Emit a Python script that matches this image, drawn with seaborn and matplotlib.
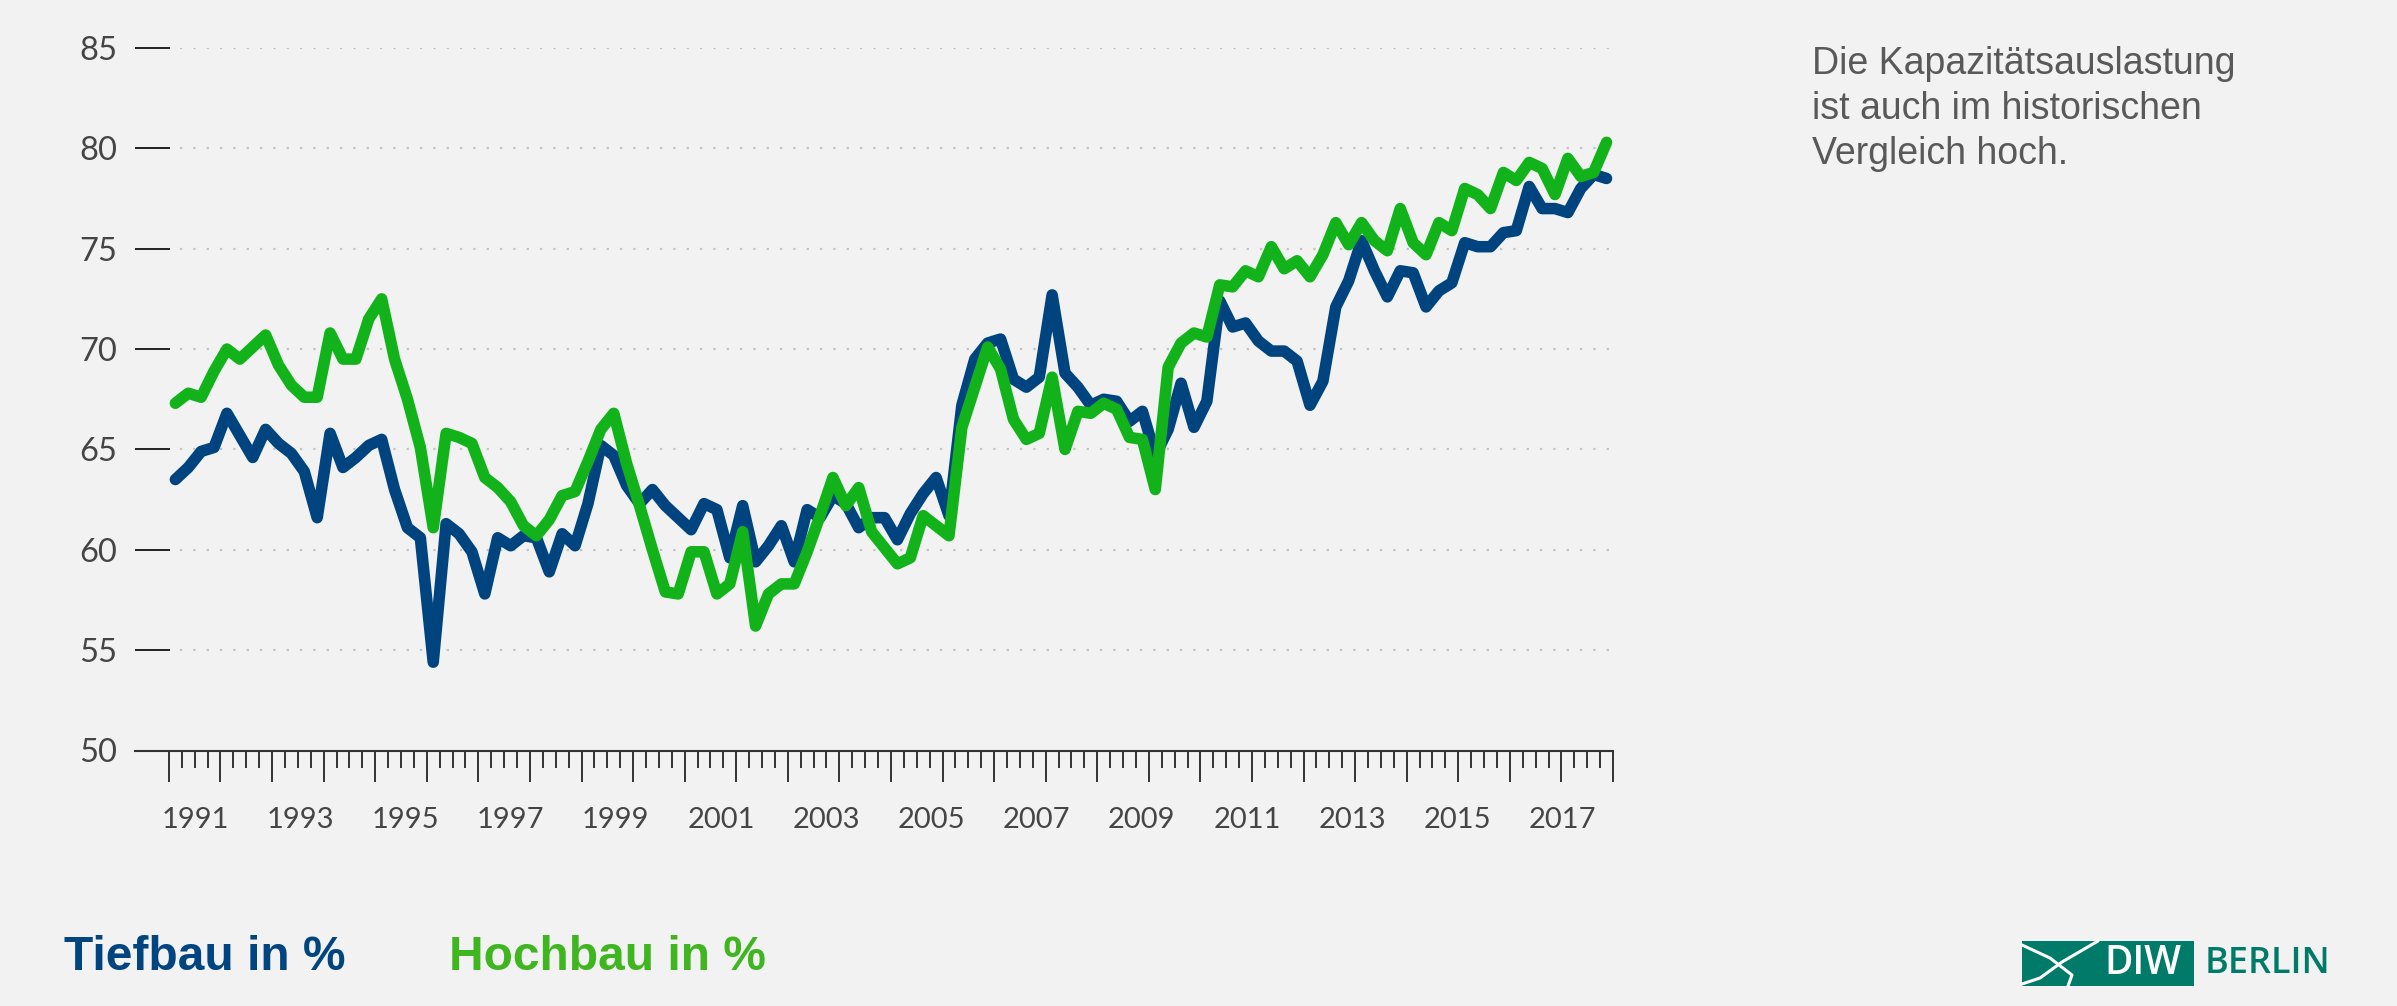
import numpy as np
import pandas as pd
import matplotlib
matplotlib.use("Agg")
import matplotlib.pyplot as plt
import seaborn as sns
from matplotlib.patches import Rectangle
from matplotlib.lines import Line2D

# ---------------- data ----------------
quarters = list(pd.period_range("1991Q1", periods=112, freq="Q").astype(str))

tiefbau = [
    63.5, 64.1, 64.9, 65.1, 66.8, 65.7, 64.6, 66.0, 65.3, 64.8, 63.9, 61.6,
    65.8, 64.1, 64.6, 65.2, 65.5, 63.0, 61.1, 60.6, 54.4, 61.3, 60.8, 59.9,
    57.8, 60.6, 60.2, 60.7, 60.6, 58.9, 60.8, 60.2, 62.3, 65.2, 64.7, 63.2,
    62.3, 63.0, 62.2, 61.6, 61.0, 62.3, 62.0, 59.6, 62.2, 59.4, 60.2, 61.2,
    59.4, 62.0, 61.6, 62.7, 62.3, 61.1, 61.6, 61.6, 60.5, 61.8, 62.8, 63.6,
    61.7, 67.2, 69.5, 70.3, 70.5, 68.5, 68.1, 68.6, 72.7, 68.8, 68.1, 67.2,
    67.5, 67.4, 66.4, 66.9, 64.7, 66.0, 68.3, 66.1, 67.4, 72.4, 71.1, 71.3,
    70.4, 69.9, 69.9, 69.4, 67.2, 68.4, 72.1, 73.4, 75.4, 73.9, 72.6, 73.9,
    73.8, 72.1, 72.9, 73.3, 75.3, 75.1, 75.1, 75.8, 75.9, 78.1, 77.0, 77.0,
    76.8, 78.0, 78.7, 78.5,
]

hochbau = [
    67.3, 67.8, 67.6, 68.9, 70.0, 69.5, 70.1, 70.7, 69.2, 68.2, 67.6, 67.6,
    70.8, 69.5, 69.5, 71.5, 72.5, 69.5, 67.5, 65.1, 61.1, 65.8, 65.6, 65.3,
    63.6, 63.1, 62.4, 61.2, 60.7, 61.5, 62.7, 62.9, 64.4, 66.0, 66.8, 64.3,
    62.2, 60.0, 57.9, 57.8, 59.9, 59.9, 57.8, 58.3, 60.9, 56.2, 57.8, 58.3,
    58.3, 59.9, 61.7, 63.6, 62.2, 63.1, 60.9, 60.1, 59.3, 59.6, 61.7, 61.2,
    60.7, 66.1, 68.1, 70.1, 69.0, 66.5, 65.5, 65.8, 68.6, 65.0, 66.9, 66.8,
    67.3, 67.0, 65.6, 65.5, 63.0, 69.1, 70.3, 70.8, 70.6, 73.2, 73.1, 73.9,
    73.6, 75.1, 74.0, 74.4, 73.6, 74.7, 76.3, 75.2, 76.3, 75.4, 74.9, 77.0,
    75.3, 74.7, 76.3, 75.9, 78.0, 77.7, 77.0, 78.8, 78.4, 79.3, 79.0, 77.7,
    79.5, 78.6, 78.8, 80.3,
]

year_labels = ["1991", "1993", "1995", "1997", "1999", "2001", "2003",
               "2005", "2007", "2009", "2011", "2013", "2015", "2017"]
ytick_values = [50, 55, 60, 65, 70, 75, 80, 85]
series_names = ["Tiefbau in %", "Hochbau in %"]
line_colors = ["#00447f", "#12b31a"]
legend_colors = ["#00457f", "#3fb51f"]

annotation = "Die Kapazitätsauslastung\nist auch im historischen\nVergleich hoch."

# ---------------- frame ----------------
W, H = 2397, 1006
BG = "#f2f2f2"
sns.set_theme(style="white")
plt.rcParams["font.family"] = ["Lato", "DejaVu Sans"]

fig = plt.figure(figsize=(W / 100, H / 100), dpi=100, facecolor=BG)

def fx(px):
    return px / W

def fy(py):
    return 1 - py / H

ax = fig.add_axes([fx(135), fy(750.5), fx(1613) - fx(135), fy(48) - fy(750.5)])
ax.set_facecolor(BG)

pos = np.arange(len(quarters))
df = pd.DataFrame({
    "quarter": quarters * 2,
    "pos": np.concatenate([pos, pos]),
    "value": tiefbau + hochbau,
    "series": [series_names[0]] * len(quarters) + [series_names[1]] * len(quarters),
})

# dotted gridlines (drawn first, behind lines)
ax.hlines(ytick_values[1:], 0.35, len(quarters) - 0.5, colors="#c2c2c2",
          linewidth=1.6, linestyles=(0, (1, 5.0)), zorder=0)

sns.lineplot(data=df, x="pos", y="value", hue="series", hue_order=series_names,
             palette=dict(zip(series_names, line_colors)), linewidth=8.3,
             estimator=None, sort=True, legend=False, ax=ax)
for ln in ax.get_lines():
    ln.set_solid_joinstyle("round")
    ln.set_solid_capstyle("round")
    ln.set_clip_on(False)

ax.set_xlim(-3.13, len(quarters) - 0.5)
ax.set_ylim(50, 85)
ax.set_xlabel("")
ax.set_ylabel("")

for s in ["top", "right", "left"]:
    ax.spines[s].set_visible(False)
ax.spines["bottom"].set_color("#333333")
ax.spines["bottom"].set_linewidth(1.5)

# x ticks: long at year boundaries, short at quarter boundaries
bounds = np.arange(-0.5, len(quarters), 1.0)
ax.set_xticks(bounds[::4])
ax.set_xticks([b for k, b in enumerate(bounds) if k % 4 != 0], minor=True)
ax.tick_params(axis="x", which="major", bottom=True, length=22, width=1.4,
               color="#333333", direction="out", labelbottom=False)
ax.tick_params(axis="x", which="minor", bottom=True, length=12, width=1.4,
               color="#333333", direction="out", labelbottom=False)

# year labels via secondary axis
label_pos = [1.52 + 4.08 * (int(y) - 1991) for y in year_labels]
sec = ax.secondary_xaxis("bottom")
sec.set_xticks(label_pos, labels=year_labels)
sec.tick_params(length=0, pad=41, labelsize=21, labelcolor="#454545")
sec.spines["bottom"].set_visible(False)

# y ticks
ax.set_yticks(ytick_values)
ax.set_yticklabels([str(v) for v in ytick_values])
ax.tick_params(axis="y", which="major", left=True, direction="in", length=25,
               width=1.4, color="#222222", pad=13, labelsize=23.5,
               labelcolor="#454545")

# annotation
fig.text(fx(1812), fy(46), annotation, ha="left", va="top", fontsize=27,
         linespacing=1.33, color="#595959", family=["Liberation Sans", "DejaVu Sans"])

# legend texts
fig.text(fx(64), fy(970), series_names[0], ha="left", va="baseline",
         fontsize=34.5, fontweight="bold", color=legend_colors[0],
         family=["Liberation Sans", "DejaVu Sans"])
fig.text(fx(449), fy(970), series_names[1], ha="left", va="baseline",
         fontsize=34.5, fontweight="bold", color=legend_colors[1],
         family=["Liberation Sans", "DejaVu Sans"])

# DIW Berlin logo
teal = "#007b69"
fig.add_artist(Rectangle((fx(2022), fy(986)), fx(2194) - fx(2022), fy(941) - fy(986),
                         transform=fig.transFigure, facecolor=teal, edgecolor="none"))
fig.add_artist(Line2D([fx(2022), fx(2050), fx(2072), fx(2068)],
                      [fy(945), fy(958), fy(975), fy(986)],
                      transform=fig.transFigure, color="white", linewidth=2.2))
fig.add_artist(Line2D([fx(2098), fx(2062), fx(2040), fx(2022)],
                      [fy(941), fy(962), fy(978), fy(984)],
                      transform=fig.transFigure, color="white", linewidth=2.2))
fig.text(fx(2104), fy(964), "DIW", ha="left", va="center", fontsize=28,
         fontweight="semibold", color="white", family=["Open Sans", "DejaVu Sans"])
fig.text(fx(2205), fy(964), "BERLIN", ha="left", va="center", fontsize=26,
         fontweight="semibold", color=teal, family=["Open Sans", "DejaVu Sans"])

fig.savefig("out.png", dpi=100, facecolor=BG)
